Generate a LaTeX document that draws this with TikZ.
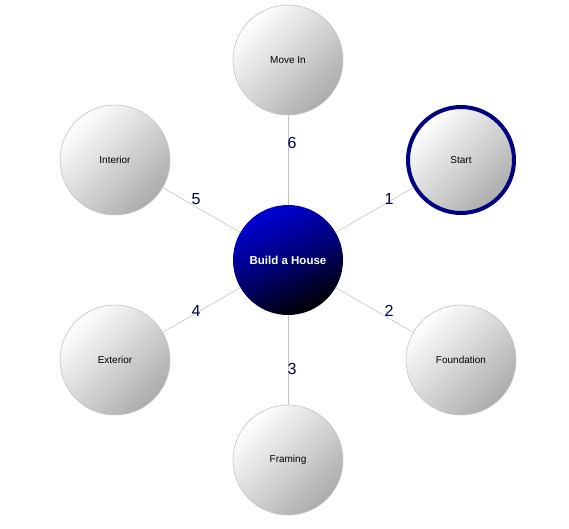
\documentclass[tikz,border=0pt]{standalone}
\usepackage{xcolor}
\usepackage{fontspec}
\setmainfont{Liberation Sans}
\usepackage{tikz}
\definecolor{hubblue}{RGB}{0,0,215}
\definecolor{startnavy}{RGB}{0,0,128}
\definecolor{ringgray}{RGB}{195,195,195}
\definecolor{stagegray}{RGB}{172,172,172}
\definecolor{labelnavy}{RGB}{0,0,80}

\begin{document}
\begin{tikzpicture}[x=1pt, y=-1pt,
    stage/.style={circle, draw=ringgray, line width=0.6pt, minimum size=110pt, inner sep=0pt,
        top color=white, bottom color=stagegray, shading angle=45,
        font=\fontsize{10}{12}\selectfont},
    firststage/.style={stage, draw=startnavy, line width=4pt, minimum size=106pt},
    hub/.style={circle, minimum size=110pt, inner sep=0pt,
        top color=hubblue, bottom color=black, middle color=hubblue!55!black, shading angle=25,
        text=white, font=\fontsize{11.5}{14}\selectfont\bfseries},
    link/.style={draw=ringgray, line width=0.6pt},
    steplabel/.style={text=labelnavy, font=\fontsize{16}{18}\selectfont, inner sep=0pt}]
    % Canvas
    \useasboundingbox (0,0) rectangle (569,528);
    % Hub
    \node[hub] (hub) at (288,260) {Build a House};
    % Stages
    \node[firststage] (start) at (461,160) {Start};
    \foreach \name/\x/\y/\txt in {foundation/461/360/Foundation, framing/288/460/Framing,
        exterior/115/360/Exterior, interior/115/160/Interior, movein/288/60/Move In}
        \node[stage] (\name) at (\x,\y) {\txt};
    % Links and step numbers
    \foreach \name/\lx/\ly/\n in {start/389/199/1, foundation/389/311/2, framing/292/369/3,
        exterior/196/311/4, interior/196/199/5, movein/292/143/6}
    {
        \draw[link] (hub) -- (\name);
        \node[steplabel] (step\n) at (\lx,\ly) {\n};
    }
\end{tikzpicture}
\end{document}
